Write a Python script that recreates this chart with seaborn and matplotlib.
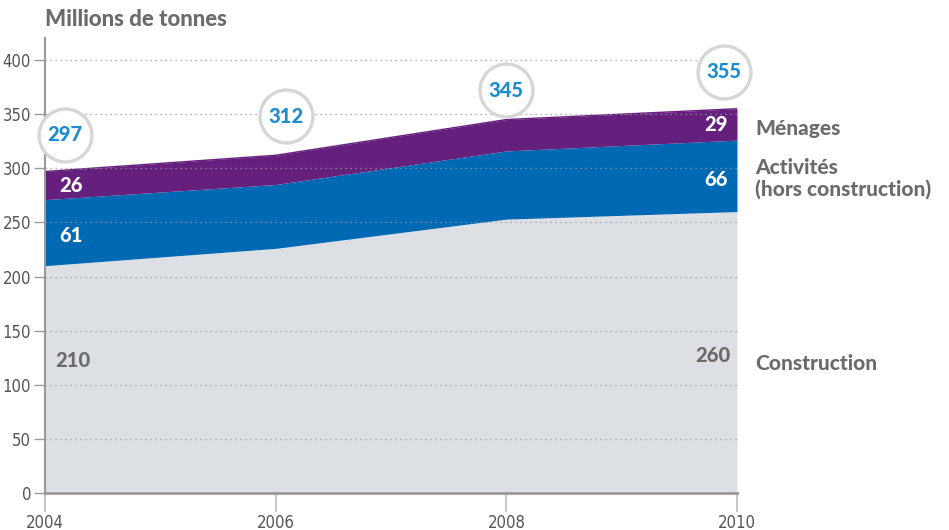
# Stacked area chart: déchets par secteur (millions de tonnes)
import pandas as pd
import seaborn as sns
import matplotlib.pyplot as plt

years = [2004, 2006, 2008, 2010]
construction = [210, 226, 253, 260]
activites = [61, 59, 63, 66]
menages = [26, 27, 29, 29]
totals = [297, 312, 345, 355]

df = pd.DataFrame({'year': years, 'Construction': construction,
                   'Activités': activites, 'Ménages': menages})
df['top_constr'] = df['Construction']
df['top_activ'] = df['top_constr'] + df['Activités']
df['top_men'] = df['top_activ'] + df['Ménages']

grey_fill = '#dcdfe3'
blue = '#0069b4'
purple = '#651f7d'
txt_grey = '#6b6b6b'
num_blue = '#1a8cd2'
W = 'black'  # heavy weight, closest to the Gill Sans bold of the original

sns.set_style('white')
plt.rcParams['font.family'] = ['Lato', 'DejaVu Sans']

fig = plt.figure(figsize=(9.49, 5.30), dpi=100)
ax = fig.add_axes([0.0474, 0.0698, 0.7292, 0.8578])

ax.fill_between(df['year'], 0, df['top_constr'], color=grey_fill, lw=0, zorder=1)
ax.fill_between(df['year'], df['top_constr'], df['top_activ'], color=blue, lw=0, zorder=1)
ax.fill_between(df['year'], df['top_activ'], df['top_men'], color=purple, lw=0, zorder=1)
sns.lineplot(x='year', y='top_men', data=df, ax=ax, color=purple, lw=1, zorder=2)

ax.set_xlim(2004, 2010)
ax.set_ylim(0, 420)
ax.set_yticks(range(0, 401, 50))
ax.set_xticks(years)
ax.set_xlabel('')
ax.set_ylabel('')

# dotted grid drawn over the areas
for yv in range(50, 401, 50):
    ax.axhline(yv, color='#9a9a9a', lw=0.9, ls=(0, (1, 3)), zorder=3)

for s in ['top', 'right']:
    ax.spines[s].set_visible(False)
ax.spines['left'].set_color('#9a9a9a')
ax.spines['left'].set_linewidth(1.5)
ax.spines['bottom'].set_color('#9a9a9a')
ax.spines['bottom'].set_linewidth(2)
ax.spines['bottom'].set_zorder(4)
ax.tick_params(axis='y', direction='out', length=8, width=1, color='#9a9a9a',
               labelsize=12, labelcolor='#555555', pad=2, left=True)
ax.tick_params(axis='x', direction='out', length=14, width=1.5, color='#c8c8c8',
               labelsize=12, labelcolor='#555555', pad=1, bottom=True)
for lab in ax.get_xticklabels() + ax.get_yticklabels():
    lab.set_family(['Liberation Sans Narrow', 'DejaVu Sans'])
    lab.set_stretch('condensed')

# total circles
circ_x = [2004.17, 2006.09, 2008.0, 2009.89]
circ_y = [331, 348, 372, 389]
ax.scatter(circ_x, circ_y, s=1450, facecolor='white', edgecolor='#d6d6d6',
           linewidth=2.4, zorder=5, clip_on=False)
for x, y, t in zip(circ_x, circ_y, totals):
    ax.text(x, y, str(t), color=num_blue, fontsize=14.5, fontweight=W,
            ha='center', va='center', zorder=6)

# in-area values
kw = dict(fontsize=14.5, fontweight=W, va='center')
ax.text(2004.12, 284, str(menages[0]), color='white', **kw)
ax.text(2004.12, 238, str(activites[0]), color='white', **kw)
ax.text(2004.09, 122, str(construction[0]), color=txt_grey, **kw)
ax.text(2009.92, 340, str(menages[3]), color='white', ha='right', **kw)
ax.text(2009.92, 290, str(activites[3]), color='white', ha='right', **kw)
ax.text(2009.94, 127, str(construction[3]), color=txt_grey, ha='right', **kw)

# series names on the right
lk = dict(color=txt_grey, fontsize=15, fontweight=W, va='center')
fig.text(755 / 949, 1 - 128 / 530, 'Ménages', **lk)
fig.text(755 / 949, 1 - 168 / 530, 'Activités', **lk)
fig.text(755 / 949, 1 - 189 / 530, '(hors construction)', **lk)
fig.text(755 / 949, 1 - 364 / 530, 'Construction', **lk)

fig.text(45 / 949, 1 - 19 / 530, 'Millions de tonnes', color=txt_grey, fontsize=16, fontweight=W, va='center')

fig.savefig('out.png', dpi=100)
